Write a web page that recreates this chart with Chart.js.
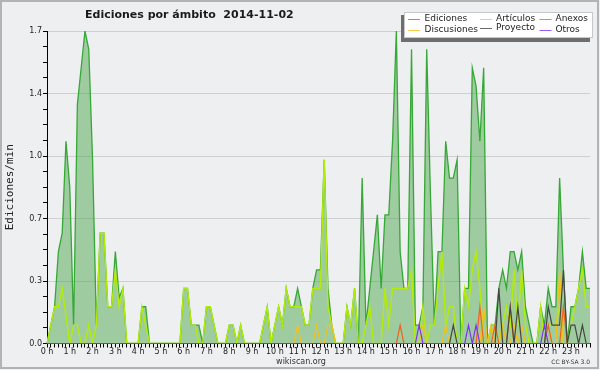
<!DOCTYPE html>
<html>
<head>
<meta charset="utf-8">
<script src="https://cdn.jsdelivr.net/npm/chart.js@4/dist/chart.umd.min.js"></script>
<style>
  html, body { margin: 0; padding: 0; background: #ffffff; }
  #wrap { width: 600px; height: 370px; }
</style>
</head>
<body>
<div id="wrap"><canvas id="c" width="600" height="370"></canvas></div>
<script>
// ---- Data (edits per minute, 10-minute bins) ----
const hourLabels = ['0 h','1 h','2 h','3 h','4 h','5 h','6 h','7 h','8 h','9 h','10 h','11 h',
                    '12 h','13 h','14 h','15 h','16 h','17 h','18 h','19 h','20 h','21 h','22 h','23 h'];
const yTickLabels = ['0.0','0.3','0.7','1.0','1.4','1.7'];
const seriesNames = ['Ediciones','Artículos','Anexos','Discusiones','Proyecto','Otros'];

const ediciones = [
  0, 0.1, 0.2, 0.5, 0.6, 1.1, 0.85, 0.1, 1.3, 1.5, 1.7, 1.6,
  1.0, 0.1, 0.6, 0.6, 0.2, 0.2, 0.5, 0.25, 0.3, 0, 0, 0,
  0, 0.2, 0.2, 0, 0, 0, 0, 0, 0, 0, 0, 0,
  0.3, 0.3, 0.1, 0.1, 0.1, 0, 0.2, 0.2, 0.1, 0, 0, 0,
  0.1, 0.1, 0, 0.1, 0, 0, 0, 0, 0, 0.1, 0.2, 0,
  0.1, 0.2, 0.1, 0.3, 0.2, 0.2, 0.3, 0.2, 0.1, 0.1, 0.3, 0.4,
  0.4, 1.0, 0.3, 0.1, 0, 0, 0, 0.2, 0.1, 0.3, 0, 0.9,
  0.1, 0.3, 0.5, 0.7, 0.3, 0.7, 0.7, 1.1, 1.7, 0.5, 0.3, 0.3,
  1.6, 0.1, 0.1, 0.2, 1.6, 0.8, 0.1, 0.5, 0.5, 1.1, 0.9, 0.9,
  1.0, 0, 0.3, 0.3, 1.5, 1.4, 1.1, 1.5, 0, 0.1, 0.1, 0.3,
  0.4, 0.3, 0.5, 0.5, 0.4, 0.5, 0.2, 0.1, 0, 0, 0.2, 0.1,
  0.3, 0.2, 0.2, 0.9, 0.4, 0, 0.2, 0.2, 0.3, 0.5, 0.3, 0.3
];
const articulos = [
  0, 0.1, 0.2, 0.2, 0.3, 0.15, 0, 0.1, 0.1, 0, 0, 0.1,
  0, 0.1, 0.6, 0.6, 0.2, 0.2, 0.4, 0.2, 0.3, 0, 0, 0,
  0, 0.2, 0.1, 0, 0, 0, 0, 0, 0, 0, 0, 0,
  0.3, 0.3, 0.1, 0.1, 0, 0, 0.2, 0.2, 0.1, 0, 0, 0,
  0.1, 0.1, 0, 0.1, 0, 0, 0, 0, 0, 0.1, 0.2, 0,
  0.1, 0.2, 0.1, 0.3, 0.2, 0.2, 0.2, 0.2, 0.1, 0.1, 0.3, 0.3,
  0.3, 1.0, 0.2, 0.1, 0, 0, 0, 0.2, 0.1, 0.3, 0, 0,
  0.1, 0.2, 0, 0, 0, 0.3, 0.1, 0.3, 0.3, 0.3, 0.3, 0.3,
  0.4, 0, 0, 0.2, 0, 0.1, 0.1, 0.3, 0.5, 0.1, 0.2, 0.2,
  0, 0, 0.3, 0.2, 0.4, 0.5, 0.3, 0, 0, 0.1, 0.1, 0,
  0.1, 0.2, 0.1, 0.4, 0.1, 0.4, 0.1, 0, 0, 0, 0.2, 0,
  0.1, 0.1, 0.1, 0.2, 0, 0, 0.1, 0.2, 0.3, 0.4, 0.2, 0.2
];
const anexos = [
  0,0,0,0,0,0,0,0,0,0,0,0,
  0,0,0,0,0,0,0,0,0,0,0,0,
  0,0,0,0,0,0,0,0,0,0,0,0,
  0,0,0,0,0,0,0,0,0,0,0,0,
  0,0,0,0,0,0,0,0,0,0,0,0,
  0,0,0,0,0,0,0,0,0,0,0,0,
  0,0,0,0,0,0,0,0,0,0,0,0,
  0,0,0,0,0,0,0,0,0,0.1,0,0,
  0,0,0,0,0,0,0,0,0,0,0,0,
  0,0,0,0,0,0,0.2,0,0,0,0.1,0,
  0,0,0.2,0,0,0,0,0,0,0,0,0,
  0.1,0,0,0,0.2,0,0,0,0,0,0,0
];
const discusiones = [
  0,0,0,0,0,0,0,0,0,0,0,0,
  0,0,0,0,0,0,0,0,0,0,0,0,
  0,0,0,0,0,0,0,0,0,0,0,0,
  0,0,0,0,0,0,0,0,0,0,0,0,
  0,0,0,0,0,0,0,0,0,0,0,0,
  0,0,0,0,0,0,0.1,0,0,0,0,0.1,
  0,0,0.1,0.1,0,0,0,0,0,0,0,0,
  0,0,0,0,0,0,0,0,0,0,0,0,
  0,0,0,0.1,0,0,0,0,0,0.1,0,0,
  0,0,0,0,0,0,0,0.2,0,0.1,0,0,
  0.1,0,0,0.1,0,0.1,0,0,0,0,0,0,
  0.1,0,0,0.4,0,0,0,0,0,0,0,0
];
const proyecto = [
  0,0,0,0,0,0,0,0,0,0,0,0,
  0,0,0,0,0,0,0,0,0,0,0,0,
  0,0,0,0,0,0,0,0,0,0,0,0,
  0,0,0,0,0,0,0,0,0,0,0,0,
  0,0,0,0,0,0,0,0,0,0,0,0,
  0,0,0,0,0,0,0,0,0,0,0,0,
  0,0,0,0,0,0,0,0,0,0,0,0,
  0,0,0,0,0,0,0,0,0,0,0,0,
  0,0,0,0,0,0,0,0,0,0,0,0.1,
  0,0,0,0,0,0,0,0,0,0,0,0.3,
  0,0,0.2,0,0.2,0,0,0,0,0,0,0,
  0.2,0.1,0.1,0.1,0.4,0,0.1,0.1,0,0.1,0,0
];
const otros = [
  0,0,0,0,0,0,0,0,0,0,0,0,
  0,0,0,0,0,0,0,0,0,0,0,0,
  0,0,0,0,0,0,0,0,0,0,0,0,
  0,0,0,0,0,0,0,0,0,0,0,0,
  0,0,0,0,0,0,0,0,0,0,0,0,
  0,0,0,0,0,0,0,0,0,0,0,0,
  0,0,0,0,0,0,0,0,0,0,0,0,
  0,0,0,0,0,0,0,0,0,0,0,0,
  0,0,0.1,0,0,0,0,0,0,0,0,0,
  0,0,0,0.1,0,0.1,0,0,0,0,0,0,
  0,0,0,0,0,0,0,0,0,0,0,0.1,
  0,0,0,0,0,0,0,0,0,0,0,0
];

// categories: 10-minute slots of the day
const categories = [];
for (let h = 0; h < 24; h++) for (let m = 0; m < 60; m += 10)
  categories.push(String(h).padStart(2,'0') + ':' + String(m).padStart(2,'0'));

const colors = {
  Ediciones: '#35a835',
  Articulos: '#b4ec0a',
  Anexos: '#f2601e',
  Discusiones: '#f4c21c',
  Proyecto: '#454545',
  Otros: '#7f33f2'
};
const FONT = '"DejaVu Sans", "Liberation Sans", sans-serif';

const frame = {
  id: 'frame',
  beforeDraw(chart) {
    const ctx = chart.ctx;
    ctx.save();
    ctx.fillStyle = '#eeeff1';
    ctx.fillRect(0, 0, 600, 370);
    ctx.strokeStyle = '#b3b3b3';
    ctx.lineWidth = 2;
    ctx.strokeRect(1, 1, 597, 367);
    ctx.restore();
  },
  afterDraw(chart) {
    const ctx = chart.ctx;
    ctx.save();
    // Title
    ctx.fillStyle = '#1a1a1a';
    ctx.font = 'bold 11px ' + FONT;
    ctx.textBaseline = 'alphabetic';
    ctx.textAlign = 'left';
    ctx.fillText('Ediciones por ámbito  2014-11-02', 85, 18);
    // Footer
    ctx.font = '8px ' + FONT;
    ctx.fillStyle = '#333';
    ctx.textAlign = 'center';
    ctx.textBaseline = 'middle';
    ctx.fillText('wikiscan.org', 301, 361.5);
    ctx.font = '6px ' + FONT;
    ctx.textAlign = 'right';
    ctx.fillText('CC BY-SA 3.0', 590, 362);
    // Legend
    ctx.fillStyle = '#6e6e6e';
    ctx.fillRect(401, 15, 189, 27);
    ctx.fillStyle = '#ffffff';
    ctx.fillRect(404, 12, 189, 26);
    ctx.strokeStyle = '#c8c8c8';
    ctx.lineWidth = 1;
    ctx.strokeRect(404.5, 12.5, 188, 25);
    const items = [
      [seriesNames[0], colors.Ediciones, 408, 424.5, 19],
      [seriesNames[1], colors.Articulos, 480, 496, 18.5],
      [seriesNames[2], colors.Anexos, 539.5, 555.5, 19],
      [seriesNames[3], colors.Discusiones, 408, 424.5, 29.5],
      [seriesNames[4], colors.Proyecto, 480, 496, 28],
      [seriesNames[5], colors.Otros, 539.5, 555.5, 29.5]
    ];
    ctx.font = '9px ' + FONT;
    ctx.textAlign = 'left';
    ctx.textBaseline = 'middle';
    items.forEach(([name, col, lx, tx, y]) => {
      ctx.strokeStyle = col;
      ctx.globalAlpha = 0.8;
      ctx.beginPath();
      ctx.moveTo(lx, Math.round(y) + 0.5);
      ctx.lineTo(lx + 12, Math.round(y) + 0.5);
      ctx.stroke();
      ctx.globalAlpha = 1;
      ctx.fillStyle = '#222';
      ctx.fillText(name, tx, y);
    });
    ctx.restore();
  }
};

const mk = (label, data, color, order, extra) => Object.assign({
  label, data, borderColor: color, borderWidth: 1.2, pointRadius: 0,
  tension: 0, fill: false, order
}, extra || {});

new Chart(document.getElementById('c'), {
  type: 'line',
  data: {
    labels: categories,
    datasets: [
      mk(seriesNames[0], ediciones, colors.Ediciones, 6,
         { fill: 'origin', backgroundColor: 'rgba(60,160,60,0.45)', borderWidth: 1.3 }),
      mk(seriesNames[1], articulos, colors.Articulos, 5, { borderWidth: 1.4 }),
      mk(seriesNames[3], discusiones, colors.Discusiones, 4),
      mk(seriesNames[2], anexos, colors.Anexos, 3),
      mk(seriesNames[4], proyecto, colors.Proyecto, 2),
      mk(seriesNames[5], otros, colors.Otros, 1)
    ]
  },
  options: {
    responsive: false,
    animation: false,
    devicePixelRatio: 1,
    layout: { padding: { left: 0, top: 31, right: 10, bottom: 0 } },
    plugins: { legend: { display: false }, title: { display: false }, tooltip: { enabled: false } },
    scales: {
      x: {
        type: 'category',
        offset: false,
        border: { display: true, color: '#000', width: 1 },
        grid: { drawOnChartArea: false, drawTicks: true, tickLength: 4, tickColor: '#000', color: '#000' },
        ticks: {
          autoSkip: false, maxRotation: 0, minRotation: 0, padding: 0,
          color: '#222', font: { family: FONT, size: 8 },
          callback: (v, i) => (i % 6 === 0 ? hourLabels[i / 6] : '')
        },
        afterFit: (s) => { s.height = 26.5; }
      },
      y: {
        type: 'linear',
        min: 0, max: 1.7,
        border: { display: true, color: '#000', width: 1 },
        grid: {
          drawTicks: true, tickLength: 4, tickColor: '#000',
          color: (c) => (c.index % 4 === 0 && c.index > 0 ? '#cfcfd1' : 'rgba(0,0,0,0)')
        },
        afterBuildTicks: (s) => {
          const t = [];
          for (let k = 0; k <= 20; k++) t.push({ value: Math.round(k * 85) / 1000 });
          s.ticks = t;
        },
        ticks: {
          padding: 1, color: '#222', font: { family: FONT, size: 8 },
          callback: (v, i) => (i % 4 === 0 ? yTickLabels[i / 4] : '')
        },
        title: {
          display: true, text: 'Ediciones/min', color: '#222',
          font: { family: '"DejaVu Sans Mono", monospace', size: 11 },
          padding: { top: 4, bottom: 0 }
        },
        afterFit: (s) => { s.width = 47; }
      }
    }
  },
  plugins: [frame]
});
</script>
</body>
</html>
